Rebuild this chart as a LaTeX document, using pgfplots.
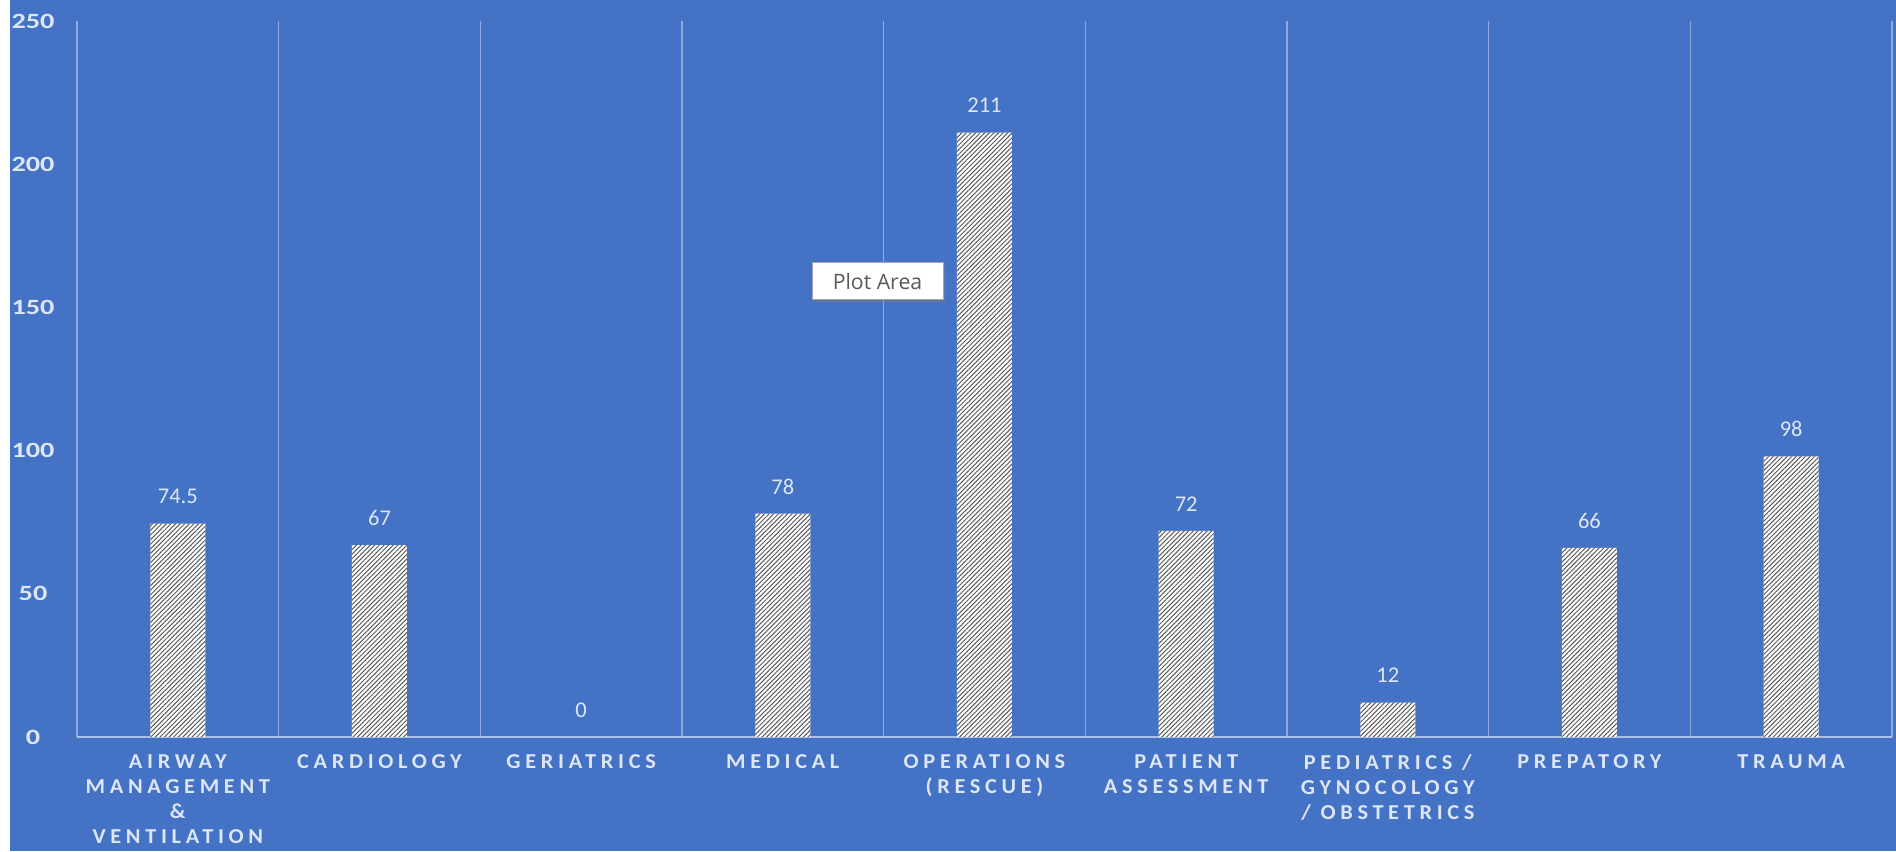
\documentclass[border=0pt]{standalone}
\usepackage{pgfplots}
\pgfplotsset{compat=1.18}
\usepackage{fontspec}
\setmainfont{Carlito}
\newfontfamily\tipfont{Open Sans}
\newfontfamily\catfont[LetterSpace=22,FakeStretch=1.05]{Carlito}
\newfontfamily\tickfont[FakeStretch=1.3]{Carlito}
\usetikzlibrary{patterns.meta,shadows}
\definecolor{bg}{HTML}{4472C4}
\definecolor{gridc}{HTML}{8FAADC}
\definecolor{axisc}{HTML}{A9C1E8}
\definecolor{txt}{HTML}{DDE6F5}
\definecolor{stripe}{HTML}{5A5A5A}
\begin{document}
\begin{tikzpicture}
\fill[white] (0,0) rectangle (758.4pt,340.4pt);
\fill[bg] (4pt,0) rectangle (758.4pt,340.4pt);
\useasboundingbox (0,0) rectangle (758.4pt,340.4pt);
\begin{axis}[
  at={(30.8pt,45.6pt)}, anchor=south west,
  scale only axis, width=726pt, height=286.4pt,
  xmin=-0.5, xmax=8.5, ymin=0, ymax=250,
  ytick={0,50,...,250},
  xtick={0,...,8},
  xticklabels={{AIRWAY\\MANAGEMENT\\\&\\VENTILATION},CARDIOLOGY,GERIATRICS,MEDICAL,{OPERATIONS\\(RESCUE)},{PATIENT\\ASSESSMENT},{PEDIATRICS /\\GYNOCOLOGY\\/ OBSTETRICS},PREPATORY,TRAUMA},
  minor xtick={-0.5,0.5,...,8.5},
  xminorgrids, minor grid style={gridc, line width=0.5pt},
  major tick length=0pt, minor tick length=0pt,
  axis x line*=bottom, axis y line*=left,
  x axis line style={axisc, line width=0.7pt, -},
  y axis line style={draw=none},
  /pgf/number format/assume math mode=true,
  xticklabel style={font=\catfont\bfseries\fontsize{8.5}{10}\selectfont, text=txt, align=center, anchor=north, inner sep=0pt, yshift=-7pt},
  yticklabel style={font=\tickfont\bfseries\fontsize{8.7}{9}\selectfont, text=txt, anchor=center, xshift=-17.6pt},
  nodes near coords,
  nodes near coords style={font=\fontsize{9}{10}\selectfont, text=txt, anchor=center, yshift=10.8pt},
]
\addplot[ybar, bar width=22pt, draw=none, fill=white,
  postaction={pattern={Lines[angle=45,distance=1.3pt,line width=0.4pt]}, pattern color=stripe}]
  coordinates {(0,74.5) (1,67) (2,0) (3,78) (4,211) (5,72) (6,12) (7,66) (8,98)};
\end{axis}
\node[draw=gray!70, fill=white, drop shadow={shadow xshift=1.2pt, shadow yshift=-1.2pt, opacity=0.35},
  font=\tipfont\fontsize{8.5}{10}\selectfont, text=black!65, minimum width=52.4pt, minimum height=14.8pt, inner sep=0pt]
  at (351pt,227.8pt) {Plot Area};
\end{tikzpicture}
\end{document}
